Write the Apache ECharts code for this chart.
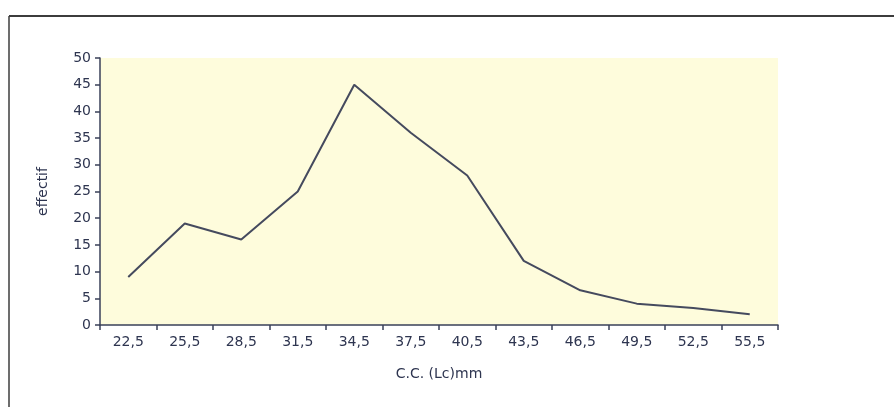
<!DOCTYPE html>
<html>
<head>
<meta charset="utf-8">
<script src="https://cdn.jsdelivr.net/npm/echarts@6/dist/echarts.min.js"></script>
<style>
html,body{margin:0;padding:0;background:#fff;}
#chart{width:894px;height:407px;}
</style>
</head>
<body>
<div id="chart"></div>
<script>
var categories = ["22,5","25,5","28,5","31,5","34,5","37,5","40,5","43,5","46,5","49,5","52,5","55,5"];
var effectif = [9, 19, 16, 25, 45, 36, 28, 12, 6.5, 4, 3.2, 2];
var yTicks = {min: 0, max: 50, interval: 5};
var xTitle = "C.C. (Lc)mm";
var yTitle = "effectif";

var textColor = "#2e3550";
var axisColor = "#3a4058";
var font = "DejaVu Sans";

var chart = echarts.init(document.getElementById('chart'), null, {renderer: 'canvas'});
chart.setOption({
  backgroundColor: '#ffffff',
  animation: false,
  grid: {left: 100, right: 116, top: 58, bottom: 82, show: true, backgroundColor: '#fefcdc', borderWidth: 0},
  graphic: [
    {type: 'line', shape: {x1: 9, y1: 16, x2: 894, y2: 16}, style: {stroke: '#3c3c3c', lineWidth: 2}},
    {type: 'line', shape: {x1: 9, y1: 16, x2: 9, y2: 407}, style: {stroke: '#3c3c3c', lineWidth: 1.5}}
  ],
  xAxis: {
    type: 'category',
    data: categories,
    boundaryGap: true,
    name: xTitle,
    nameLocation: 'middle',
    nameGap: 42,
    nameTextStyle: {color: textColor, fontFamily: font, fontSize: 14},
    axisLine: {show: true, lineStyle: {color: axisColor, width: 1.5}},
    axisTick: {show: true, length: 5, inside: false, alignWithLabel: false, lineStyle: {color: axisColor, width: 1.5}},
    axisLabel: {color: textColor, fontFamily: font, fontSize: 14, margin: 10, interval: 0},
    splitLine: {show: false}
  },
  yAxis: {
    type: 'value',
    min: yTicks.min,
    max: yTicks.max,
    interval: yTicks.interval,
    name: yTitle,
    nameLocation: 'middle',
    nameRotate: 90,
    nameGap: 50,
    nameTextStyle: {color: textColor, fontFamily: font, fontSize: 14},
    axisLine: {show: true, lineStyle: {color: axisColor, width: 1.5}},
    axisTick: {show: true, length: 5, inside: false, lineStyle: {color: axisColor, width: 1.5}},
    axisLabel: {color: textColor, fontFamily: font, fontSize: 14, margin: 9},
    splitLine: {show: false}
  },
  series: [{
    type: 'line',
    data: effectif,
    showSymbol: false,
    symbol: 'none',
    lineStyle: {color: '#454a5e', width: 2},
    smooth: false
  }]
});
</script>
</body>
</html>
